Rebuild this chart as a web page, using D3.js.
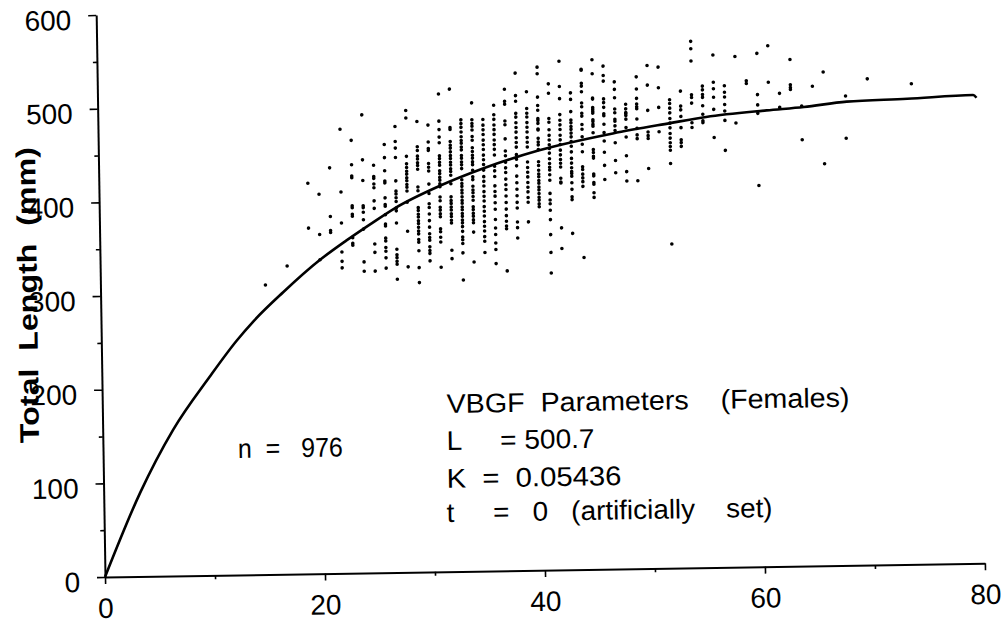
<!DOCTYPE html>
<html>
<head>
<meta charset="utf-8">
<script src="https://cdn.jsdelivr.net/npm/d3@7"></script>
<style>
  body { margin: 0; background: #fff; }
  svg { display: block; font-family: "Liberation Sans", Arial, Helvetica, sans-serif; }
</style>
</head>
<body>
<svg id="chart" width="1003" height="626"></svg>
<script>
// growth curve (age, total length mm)
var curveAge    = [0, 3.3, 6.4, 9.8, 12.3, 13.9, 16.6, 20, 22.4, 24.6, 26.9, 31, 35, 40, 46.8, 52, 55.3, 60.8, 64.2, 68.1, 73.6, 79.6, 79.9];
var curveLength = [0, 89, 156, 212, 250, 271, 301, 335, 355, 372, 389, 412, 430, 448, 465, 475, 481, 487, 490, 495, 497, 500, 497];

// observations, one column per age
var colAge = [15, 17, 19, 20, 21, 22, 23, 24, 25, 26, 27, 28, 29, 30, 31, 32, 33, 34, 35, 36, 37, 38, 39, 40,
  41, 42, 43, 44, 45, 46, 47, 48, 49, 50, 51, 52, 53, 54, 55, 56, 57, 58, 59, 60, 61, 62, 63, 64, 65, 66, 68, 70, 74];
var colLength = [
  [309],
  [329],
  [417, 369],
  [405, 362, 335],
  [433, 381, 366, 364],
  [474, 407, 374, 343, 333, 326],
  [462, 436, 424, 422, 392, 390, 383, 381, 358, 352, 350],
  [489, 441, 419, 392, 390, 385, 377, 367, 332, 322],
  [435, 423, 421, 415, 411, 397, 389, 351, 342, 322],
  [457, 443, 429, 418, 416, 400, 393, 391, 382, 372, 370, 357, 354, 347, 343, 336, 325],
  [476, 460, 453, 443, 418, 407, 404, 400, 396, 389, 386, 373, 345, 339, 336, 332, 329, 313],
  [493, 485, 444, 436, 432, 428, 425, 421, 418, 414, 411, 407, 395, 364, 326],
  [481, 454, 450, 444, 441, 437, 434, 430, 411, 407, 389, 386, 382, 379, 375, 372, 368, 364, 361, 355, 352, 343, 325, 309],
  [477, 459, 452, 450, 436, 432, 428, 414, 404, 393, 389, 382, 375, 368, 361, 357, 354, 347, 343, 340, 332],
  [510, 481, 472, 464, 458, 444, 441, 437, 434, 428, 425, 421, 418, 414, 411, 400, 396, 389, 386, 382, 379, 366, 363, 357, 352, 325],
  [515, 474, 472, 459, 455, 452, 448, 444, 441, 437, 434, 430, 427, 423, 414, 400, 396, 393, 389, 386, 382, 379, 375, 372, 343, 334],
  [482, 478, 474, 469, 464, 460, 457, 453, 450, 444, 441, 437, 434, 430, 418, 414, 411, 407, 404, 400, 396, 393, 389, 386, 382, 379, 375, 372, 368, 363, 357, 354, 350, 340, 311],
  [500, 482, 478, 475, 471, 464, 460, 452, 448, 444, 441, 437, 434, 428, 421, 418, 411, 407, 404, 400, 396, 389, 386, 382, 379, 375, 372, 362, 330],
  [482, 476, 471, 466, 460, 455, 450, 444, 439, 434, 428, 421, 416, 411, 405, 400, 395, 389, 384, 379, 373, 368, 363, 357, 352, 340],
  [497, 487, 482, 476, 471, 466, 460, 455, 450, 444, 432, 427, 421, 411, 405, 400, 393, 386, 375, 366, 359, 350, 343, 328],
  [514, 501, 498, 480, 476, 461, 448, 443, 436, 430, 425, 418, 412, 407, 400, 393, 386, 379, 373, 368, 365, 320],
  [531, 507, 501, 488, 484, 478, 473, 468, 462, 457, 452, 444, 439, 432, 421, 414, 407, 400, 393, 387, 372, 366, 355],
  [511, 493, 488, 484, 478, 473, 468, 462, 457, 452, 436, 430, 425, 420, 414, 409, 404, 398, 393, 372],
  [537, 530, 505, 496, 491, 482, 480, 477, 471, 470, 461, 457, 454, 449, 436, 432, 427, 423, 420, 416, 413, 409, 406, 402, 398, 395, 391, 388],
  [519, 509, 482, 478, 470, 464, 459, 454, 450, 445, 439, 434, 430, 427, 422, 416, 402, 395, 391, 384, 374, 358, 339, 317],
  [543, 516, 503, 486, 480, 475, 470, 464, 459, 454, 448, 443, 438, 434, 430, 418, 414, 413, 365, 343],
  [509, 502, 489, 480, 477, 473, 470, 466, 462, 457, 452, 446, 439, 434, 429, 425, 423, 420, 413, 406, 398, 395, 359],
  [534, 533, 519, 516, 510, 498, 494, 487, 484, 475, 470, 462, 454, 446, 430, 427, 422, 418, 414, 409, 333],
  [544, 529, 503, 502, 493, 491, 489, 487, 480, 478, 475, 473, 466, 448, 445, 441, 439, 422, 420, 413, 411, 402, 397],
  [537, 527, 521, 502, 498, 493, 486, 484, 475, 466, 457, 445, 431, 416],
  [520, 512, 503, 491, 487, 480, 478, 473, 468, 455, 436, 423],
  [496, 491, 487, 486, 484, 480, 471, 461, 441, 424, 414],
  [525, 512, 502, 496, 493, 491, 480, 470, 463, 459, 414],
  [537, 516, 489, 466, 462, 459, 427],
  [535, 513, 492, 466],
  [500, 496, 491, 486, 480, 475, 470, 464, 459, 454, 450, 446, 432, 346],
  [509, 493, 489, 482, 470, 457, 454, 450],
  [562, 554, 541, 505, 502, 496, 475, 470],
  [514, 510, 505, 502, 493, 484, 477, 475],
  [547, 518, 511, 502, 489, 459],
  [514, 507, 502, 494, 487, 477, 445],
  [545, 474],
  [519, 516],
  [548, 504, 493, 484, 407],
  [556, 517],
  [505, 490],
  [541, 514, 511, 509],
  [491, 455],
  [512],
  [527, 429],
  [501, 456],
  [519],
  [513]
];

var xTicks = [0, 20, 40, 60, 80];
var xMinorTicks = [10, 30, 50, 70];
var yTicks = [0, 100, 200, 300, 400, 500, 600];
var yMinorTicks = [50, 150, 250, 350, 450, 550];

var yTitle = "Total  Length  (mm)";
var sampleNote = "n  =   976";
var paramNotes = ["VBGF  Parameters    (Females)", "L     = 500.7", "K  =  0.05436", "t     =   0   (artificially    set)"];

// flatten the columns into points
var points = [];
colAge.forEach(function(a, i) {
  colLength[i].forEach(function(l) { points.push({ age: a, len: l }); });
});

var svg = d3.select("#chart");
svg.append("rect").attr("width", 1003).attr("height", 626).attr("fill", "#fff");

// the scanned figure is a little tilted, so the plot group is rotated
var ox = 105, oy = 577, tilt = -0.9;
var rad = -tilt * Math.PI / 180;
function toLocal(px, py) {
  var dx = px - ox, dy = py - oy;
  return [dx * Math.cos(rad) - dy * Math.sin(rad), dx * Math.sin(rad) + dy * Math.cos(rad)];
}

var g = svg.append("g").attr("transform", "translate(" + ox + "," + oy + ") rotate(" + tilt + ")");

var x = d3.scaleLinear().domain([0, 80]).range([0, 880]);
var y = d3.scaleLinear().domain([0, 600]).range([0, -562]);

// x axis
g.append("g")
  .call(d3.axisBottom(x).tickValues(xTicks).tickSize(7).tickSizeOuter(0).tickPadding(14).tickFormat(d3.format("d")));
g.append("g")
  .call(d3.axisBottom(x).tickValues(xMinorTicks).tickSize(4).tickFormat(""))
  .select(".domain").remove();

// y axis
var yAxisG = g.append("g")
  .call(d3.axisLeft(y).tickValues(yTicks).tickSize(8).tickSizeOuter(0).tickPadding(17).tickFormat(d3.format("d")));
yAxisG.selectAll(".tick text").attr("dy", "0.5em");
g.append("g")
  .call(d3.axisLeft(y).tickValues(yMinorTicks).tickSize(4).tickFormat(""))
  .select(".domain").remove();

g.selectAll(".domain").attr("stroke", "#000").attr("stroke-width", 2);
g.selectAll(".tick line").attr("stroke", "#000").attr("stroke-width", 1.6);
g.selectAll(".tick text").attr("fill", "#000").attr("font-size", 28)
  .attr("font-family", "'Liberation Sans', Arial, Helvetica, sans-serif");

// scatter
g.append("g").selectAll("circle")
  .data(points)
  .enter().append("circle")
  .attr("cx", function(d) { return x(d.age); })
  .attr("cy", function(d) { return y(d.len); })
  .attr("r", 1.8)
  .attr("fill", "#000");

// fitted curve
var line = d3.line()
  .x(function(d) { return x(d[0]); })
  .y(function(d) { return y(d[1]); })
  .curve(d3.curveMonotoneX);

g.append("path")
  .datum(curveAge.map(function(a, i) { return [a, curveLength[i]]; }))
  .attr("fill", "none")
  .attr("stroke", "#000")
  .attr("stroke-width", 2.6)
  .attr("d", line);

// notes
var p = toLocal(238, 458);
g.append("text")
  .attr("x", p[0]).attr("y", p[1])
  .attr("font-size", 27)
  .attr("textLength", 105).attr("lengthAdjust", "spacingAndGlyphs")
  .style("white-space", "pre")
  .text(sampleNote);

var noteLeft = 446.7;
var noteBase = [413, 450, 487.7, 522];
var noteWidth = [403, 148, 175, 326];
paramNotes.forEach(function(t, i) {
  var q = toLocal(noteLeft, noteBase[i]);
  g.append("text")
    .attr("x", q[0]).attr("y", q[1])
    .attr("font-size", 27)
    .attr("textLength", noteWidth[i]).attr("lengthAdjust", "spacingAndGlyphs")
    .style("white-space", "pre")
    .text(t);
});

// y axis title
svg.append("text")
  .attr("transform", "translate(37,295) rotate(-90.8)")
  .attr("text-anchor", "middle")
  .attr("font-size", 27)
  .attr("font-weight", "bold")
  .attr("textLength", 296).attr("lengthAdjust", "spacingAndGlyphs")
  .style("white-space", "pre")
  .text(yTitle);
</script>
</body>
</html>
